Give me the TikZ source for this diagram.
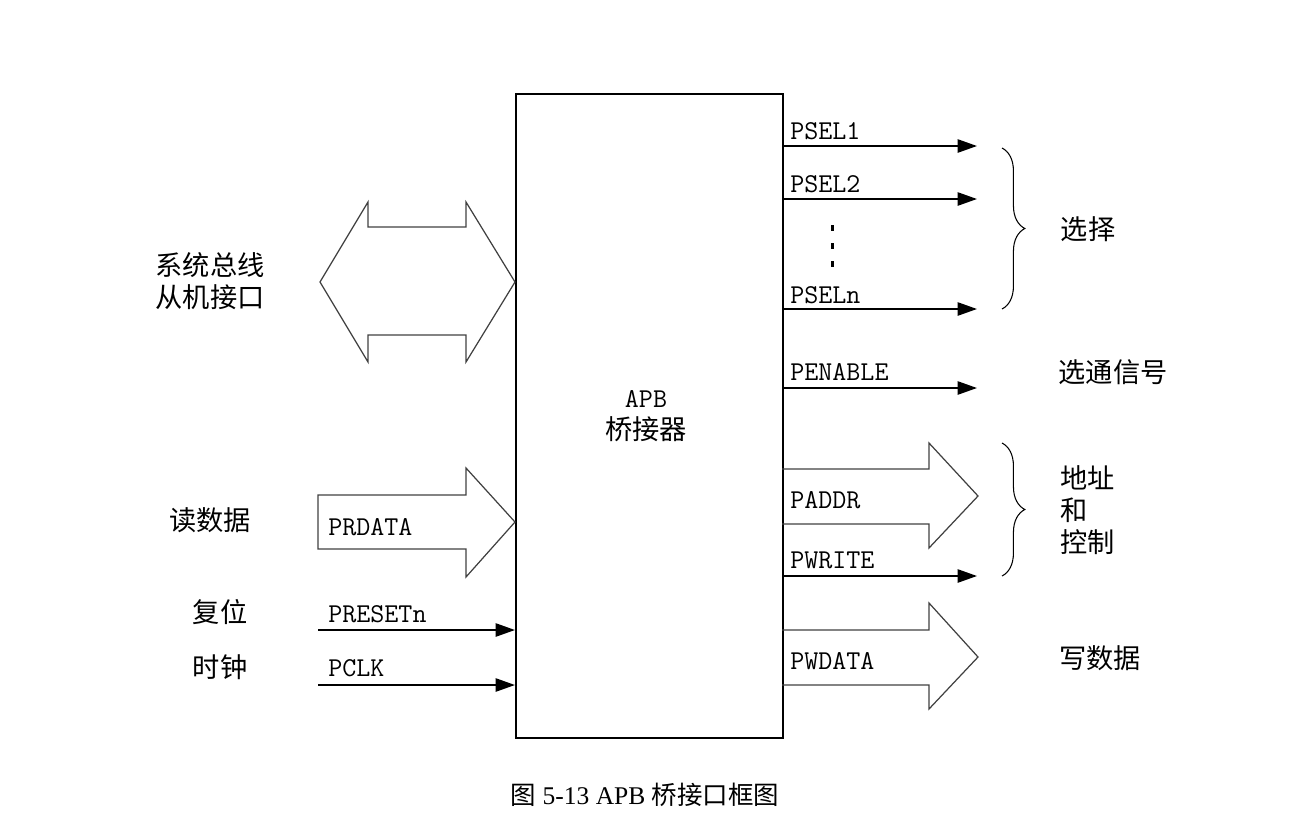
\documentclass[tikz,border=0pt]{standalone}
\usepackage{fontspec}
\setmainfont{Liberation Serif}
\newfontfamily\cjk{Noto Sans CJK SC}
\usetikzlibrary{arrows.meta,decorations.pathreplacing,positioning}

\tikzset{
	sig/.style={line width=1.1pt, -{Triangle[length=11pt,width=7.5pt]}},
	bus/.style={line width=0.7pt, draw=black!75, line join=miter},
	lab/.style={font=\ttfamily\fontsize{15.5}{17}\selectfont, anchor=west, inner sep=0pt},
	zh/.style={font=\cjk\fontsize{15.5}{18}\selectfont, inner sep=0pt},
	grp/.style={decorate, decoration={brace, amplitude=13pt}, line width=0.6pt}
}

\begin{document}
\begin{tikzpicture}[x=0.02cm, y=-0.02cm]
		\useasboundingbox (0,0) rectangle (1314,822);
		
		% the bridge
		\node[draw, line width=1.1pt, minimum width=5.34cm, minimum height=12.88cm, inner sep=0pt, anchor=north west] (apb) at (515,93) {};
		\node[zh, align=center] (apbtxt) at (646,416) {{\ttfamily APB}\\桥接器};
		
		% system bus, both ways
		\draw[bus] (320,282) -- (368,202) -- (368,227) -- (466,227) -- (466,202) -- (515,282)
		-- (466,362) -- (466,335) -- (368,335) -- (368,362) -- cycle;
		\node[zh, align=center] (sysbus) at (210,281) {系统总线\\从机接口};
		
		% read data
		\draw[bus] (318,495) -- (466,495) -- (466,468) -- (515,522) -- (466,577) -- (466,549) -- (318,549) -- cycle;
		\node[lab] (prdata) at (328,527) {PRDATA};
		\node[zh] (rd) at (210,520) {读数据};
		
		% reset and clock
		\coordinate (rst) at (318,630);
		\draw[sig] (rst) -- (apb.west |- rst);
		\node[lab] (presetn) at (328,614) {PRESETn};
		\node[zh] (fw) at (220,612) {复位};
		
		\coordinate (clk) at (318,685);
		\draw[sig] (clk) -- (apb.west |- clk);
		\node[lab] (pclk) at (328,668) {PCLK};
		\node[zh] (sz) at (220,667) {时钟};
		
		% select lines
		\coordinate (sel1) at (977,146);
		\draw[sig] (apb.east |- sel1) -- (sel1);
		\node[lab] (psel1) at (790,131) {PSEL1};
		
		\coordinate (sel2) at (977,199);
		\draw[sig] (apb.east |- sel2) -- (sel2);
		\node[lab] (psel2) at (790,184) {PSEL2};
		
		\foreach \y in {228,246,264}
			\fill (831,\y-3) rectangle (833.5,\y+3);
		
		\coordinate (seln) at (977,309);
		\draw[sig] (apb.east |- seln) -- (seln);
		\node[lab] (pseln) at (790,295) {PSELn};
		
		\draw[grp] (1002,148) -- (1002,309);
		\node[zh] (xz) at (1088,229) {选择};
		
		% enable
		\coordinate (en) at (977,388);
		\draw[sig] (apb.east |- en) -- (en);
		\node[lab] (penable) at (790,372) {PENABLE};
		\node[zh] (xt) at (1113,372) {选通信号};
		
		% address and control
		\draw[bus] (782,469) -- (929,469) -- (929,443) -- (978,496) -- (929,548) -- (929,524) -- (782,524);
		\node[lab] (paddr) at (790,500) {PADDR};
		
		\coordinate (wr) at (977,576);
		\draw[sig] (apb.east |- wr) -- (wr);
		\node[lab] (pwrite) at (790,560) {PWRITE};
		
		\draw[grp] (1002,443) -- (1002,576);
		\node[zh, align=left, anchor=west] (addr) at (1060,510) {地址\\和\\控制};
		
		% write data
		\draw[bus] (782,630) -- (929,630) -- (929,603) -- (978,657) -- (929,709) -- (929,685) -- (782,685);
		\node[lab] (pwdata) at (790,661) {PWDATA};
		\node[zh] (wd) at (1100,658) {写数据};
		
		% caption
		\node[font=\fontsize{14.5}{16}\selectfont, inner sep=0pt] (cap) at (645,795) {{\cjk 图} 5-13 APB {\cjk 桥接口框图}};
\end{tikzpicture}
\end{document}
